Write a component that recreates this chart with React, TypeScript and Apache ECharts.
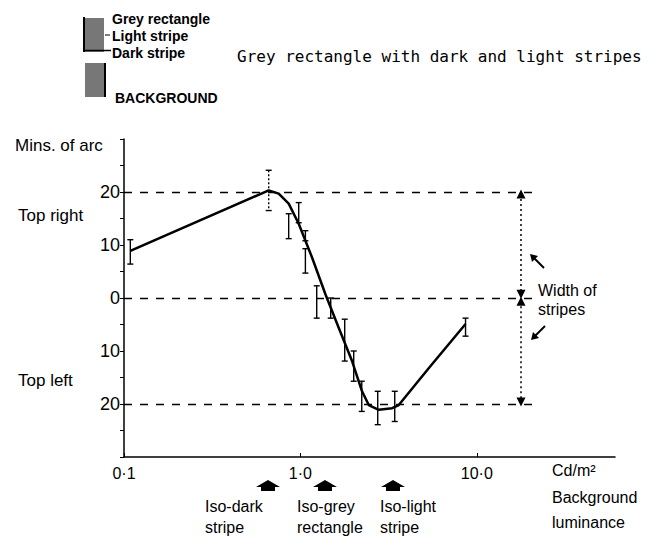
import React, { useEffect, useRef } from "react";
import * as echarts from "echarts";

// Fitted curve (background luminance in cd/m², shift in mins of arc; + = top right, - = top left)
const curveLum = [0.1086, 0.661, 0.753, 0.858, 0.978, 1.164, 1.386, 1.648, 1.962, 2.235, 2.44, 2.78, 3.31, 3.61, 5.35, 8.63];
const curveShift = [8.9, 20.3, 19.7, 17.8, 14.0, 7.65, 0.7, -5.6, -11.9, -17.6, -20.2, -21.1, -20.8, -20.2, -13.2, -4.9];

// Error bars
const errLum = [0.1086, 0.661, 0.858, 0.978, 1.067, 1.067, 1.237, 1.485, 1.783, 2.005, 2.227, 2.743, 3.425, 8.63];
const errHi = [11.0, 24.1, 15.9, 18.0, 12.7, 9.3, 2.3, 0, -4.0, -10.0, -15.7, -17.6, -17.6, -3.8];
const errLo = [6.4, 16.5, 11.2, 14.2, 10.8, 4.7, -3.8, -3.8, -11.9, -15.7, -21.4, -23.9, -23.3, -7.2];
const dottedBars = [1];

// Reference levels and stripe-width arrow
const refLevels = [20, 0, -20];
const refStart = 0.1;
const refEnd = 22.5;
const arrowLum = 17.8;

// Axis labels
const xTickLabels: Record<string, string> = { "-1": "0·1", "0": "1·0", "1": "10·0" };
const yLabelValues = [20, 10, 0, -10, -20];

const FONT = "'Liberation Sans', 'DejaVu Sans', sans-serif";
const MONO = "'DejaVu Sans Mono', 'Liberation Mono', monospace";

function houseArrow(x: number) {
  return {
    type: "polygon",
    shape: {
      points: [
        [x, 480],
        [x + 12, 487],
        [x + 7, 487],
        [x + 7, 491],
        [x - 7, 491],
        [x - 7, 487],
        [x - 12, 487],
      ],
    },
    style: { fill: "#000" },
  };
}

function txt(x: number, y: number, text: string, size: number, extra: any = {}) {
  return {
    type: "text",
    x,
    y,
    style: {
      text,
      fill: "#000",
      font: `${extra.weight || "normal"} ${size}px ${extra.family || FONT}`,
      textVerticalAlign: "middle",
      textAlign: extra.align || "left",
    },
  };
}

export default function App() {
  const ref = useRef<HTMLDivElement>(null);
  useEffect(() => {
    if (!ref.current) return;
    const chart = echarts.init(ref.current, null, { renderer: "svg" });

    const lineData = curveLum.map((x, i) => [x, curveShift[i]]);
    const errData = errLum.map((x, i) => [x, errHi[i], errLo[i], dottedBars.includes(i) ? 1 : 0]);

    const refLines = refLevels.map((v) => [
      { coord: [refStart, v], symbol: "none" },
      { coord: [refEnd, v], symbol: "none" },
    ]);
    const arrowStyle = { type: [2, 3], width: 1.5, color: "#000" };
    const arrowLines = [
      [
        { coord: [arrowLum, 19.6], symbol: "triangle", lineStyle: arrowStyle },
        { coord: [arrowLum, 0.7], symbol: "triangle" },
      ],
      [
        { coord: [arrowLum, -0.6], symbol: "triangle", lineStyle: arrowStyle },
        { coord: [arrowLum, -19.6], symbol: "triangle" },
      ],
    ];

    const option: any = {
      animation: false,
      backgroundColor: "#fff",
      grid: { left: 124, top: 139, width: 491, height: 318 },
      xAxis: {
        type: "log",
        logBase: 10,
        min: 0.1,
        max: 60.7,
        axisLine: { onZero: false, lineStyle: { color: "#000", width: 1.5 } },
        axisTick: { show: true, inside: true, length: 4, lineStyle: { color: "#000" } },
        splitLine: { show: false },
        axisLabel: {
          color: "#000",
          fontSize: 16,
          fontFamily: FONT,
          margin: 8,
          showMaxLabel: false,
          formatter: (v: number) => {
            const l = Math.log10(v);
            const r = Math.round(l);
            if (Math.abs(l - r) > 1e-6) return "";
            return xTickLabels[String(r)] || "";
          },
        },
      },
      yAxis: {
        type: "value",
        min: -30,
        max: 30,
        interval: 5,
        axisLine: { show: true, onZero: false, lineStyle: { color: "#000", width: 1.5 } },
        axisTick: { show: true, length: 4, lineStyle: { color: "#000" } },
        splitLine: { show: false },
        axisLabel: {
          color: "#000",
          fontSize: 18,
          fontFamily: FONT,
          margin: 4,
          formatter: (v: number) => (yLabelValues.includes(v) ? String(Math.abs(v)) : ""),
        },
      },
      series: [
        {
          type: "line",
          data: lineData,
          showSymbol: false,
          symbol: "none",
          smooth: false,
          lineStyle: { color: "#000", width: 2.5 },
          silent: true,
          z: 3,
          markLine: {
            silent: true,
            symbol: "none",
            label: { show: false },
            lineStyle: { color: "#000", type: [8, 8], width: 1.3 },
            data: refLines,
          },
        },
        {
          type: "line",
          data: [],
          silent: true,
          markLine: {
            silent: true,
            symbolSize: [9, 9],
            label: { show: false },
            lineStyle: arrowStyle,
            data: arrowLines,
          },
        },
        {
          type: "custom",
          data: errData,
          silent: true,
          z: 4,
          encode: { x: 0, y: [1, 2] },
          renderItem: (params: any, api: any) => {
            const x = api.value(0);
            const top = api.coord([x, api.value(1)]);
            const bot = api.coord([x, api.value(2)]);
            const dotted = api.value(3) === 1;
            const style: any = { stroke: "#000", lineWidth: 1.4, fill: "none" };
            if (dotted) style.lineDash = [2, 2];
            const cap = 3;
            return {
              type: "group",
              children: [
                { type: "line", shape: { x1: top[0], y1: top[1], x2: bot[0], y2: bot[1] }, style },
                { type: "line", shape: { x1: top[0] - cap, y1: top[1], x2: top[0] + cap, y2: top[1] }, style: { stroke: "#000", lineWidth: 1.4 } },
                { type: "line", shape: { x1: bot[0] - cap, y1: bot[1], x2: bot[0] + cap, y2: bot[1] }, style: { stroke: "#000", lineWidth: 1.4 } },
              ],
            };
          },
        },
      ],
      graphic: [
        // header legend drawing
        { type: "rect", shape: { x: 85, y: 18, width: 19, height: 34 }, style: { fill: "#777" } },
        { type: "line", shape: { x1: 84, y1: 17, x2: 84, y2: 52 }, style: { stroke: "#000", lineWidth: 2 } },
        { type: "line", shape: { x1: 84, y1: 50.5, x2: 111, y2: 50.5 }, style: { stroke: "#000", lineWidth: 1.5 } },
        { type: "line", shape: { x1: 105, y1: 35, x2: 110, y2: 35 }, style: { stroke: "#000", lineWidth: 1 } },
        { type: "rect", shape: { x: 85, y: 63, width: 19, height: 34 }, style: { fill: "#777" } },
        { type: "line", shape: { x1: 105, y1: 63, x2: 105, y2: 97 }, style: { stroke: "#000", lineWidth: 2 } },
        txt(112, 19, "Grey rectangle", 14, { weight: "bold" }),
        txt(112, 36, "Light stripe", 14, { weight: "bold" }),
        txt(112, 53, "Dark stripe", 14, { weight: "bold" }),
        txt(115, 98, "BACKGROUND", 14, { weight: "bold" }),
        txt(237, 56, "Grey rectangle with dark and light stripes", 16, { family: MONO }),
        // axis titles
        txt(15, 145, "Mins. of arc", 17),
        txt(18, 215, "Top right", 17),
        txt(18, 380, "Top left", 17),
        txt(552, 470, "Cd/m²", 16),
        txt(552, 497, "Background", 16),
        txt(552, 522, "luminance", 16),
        // width-of-stripes annotation
        txt(538, 290, "Width of", 16),
        txt(538, 309, "stripes", 16),
        { type: "line", shape: { x1: 544, y1: 268, x2: 533, y2: 257 }, style: { stroke: "#000", lineWidth: 2 } },
        { type: "polygon", shape: { points: [[530, 254], [538, 256], [532, 262]] }, style: { fill: "#000" } },
        { type: "line", shape: { x1: 545, y1: 326, x2: 534, y2: 337 }, style: { stroke: "#000", lineWidth: 2 } },
        { type: "polygon", shape: { points: [[531, 340], [533, 332], [539, 338]] }, style: { fill: "#000" } },
        // iso markers
        houseArrow(268),
        houseArrow(325),
        houseArrow(393),
        txt(205, 506, "Iso-dark", 16),
        txt(205, 527, "stripe", 16),
        txt(297, 506, "Iso-grey", 16),
        txt(297, 527, "rectangle", 16),
        txt(380, 506, "Iso-light", 16),
        txt(380, 527, "stripe", 16),
      ],
    };
    chart.setOption(option);
    return () => chart.dispose();
  }, []);
  return <div ref={ref} style={{ position: "fixed", left: 0, top: 0, width: 657, height: 538 }} />;
}
